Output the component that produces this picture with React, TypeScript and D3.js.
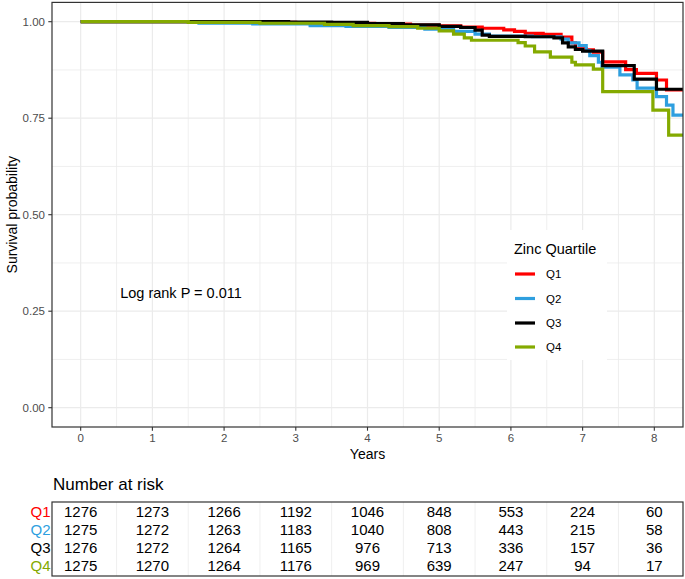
import React from "react";
import * as d3 from "d3";

// ---- data ----
const groups = ["Q1", "Q2", "Q3", "Q4"];
const groupColors = ["#FF0000", "#2E9FDF", "#000000", "#84AA00"];

// [time (years), survival probability] step points
const survQ1: [number, number][] = [
  [0, 1], [1.8, 0.999], [2.5, 0.998], [3.0, 0.997], [3.6, 0.996], [4.1, 0.994],
  [4.6, 0.991], [5.0, 0.989], [5.3, 0.986], [5.6, 0.983], [5.9, 0.979], [6.05, 0.975],
  [6.2, 0.97], [6.45, 0.967], [6.7, 0.96], [6.85, 0.945], [6.9, 0.93], [7.05, 0.927],
  [7.15, 0.921], [7.28, 0.896], [7.6, 0.876], [7.75, 0.866], [8.03, 0.849], [8.17, 0.823], [8.5, 0.823],
];
const survQ2: [number, number][] = [
  [0, 1], [1.65, 0.996], [2.4, 0.994], [3.2, 0.99], [3.7, 0.988], [4.3, 0.985],
  [4.8, 0.981], [5.2, 0.975], [5.5, 0.968], [5.7, 0.963], [6.3, 0.961], [6.7, 0.955],
  [6.8, 0.945], [6.95, 0.938], [7.05, 0.925], [7.1, 0.912], [7.22, 0.895], [7.27, 0.882],
  [7.52, 0.862], [7.7, 0.849], [7.76, 0.828], [8.03, 0.806], [8.17, 0.784], [8.26, 0.758], [8.5, 0.758],
];
const survQ3: [number, number][] = [
  [0, 1], [2.9, 0.999], [3.5, 0.998], [4.0, 0.995], [4.5, 0.992], [5.0, 0.988],
  [5.3, 0.985], [5.5, 0.978], [5.6, 0.965], [5.7, 0.962], [6.2, 0.961], [6.6, 0.958],
  [6.72, 0.945], [6.8, 0.935], [6.9, 0.928], [7.0, 0.924], [7.28, 0.886], [7.72, 0.851],
  [8.03, 0.825], [8.5, 0.825],
];
const survQ4: [number, number][] = [
  [0, 1], [1.5, 0.998], [2.5, 0.996], [3.4, 0.993], [3.8, 0.99], [4.3, 0.987],
  [4.7, 0.983], [5.0, 0.976], [5.2, 0.968], [5.35, 0.958], [5.45, 0.952], [6.1, 0.946],
  [6.2, 0.937], [6.33, 0.922], [6.55, 0.908], [6.85, 0.895], [6.9, 0.888], [7.15, 0.877],
  [7.28, 0.819], [7.98, 0.771], [8.2, 0.706], [8.5, 0.706],
];
const survData = [survQ1, survQ2, survQ3, survQ4];

const yearTicks = [0, 1, 2, 3, 4, 5, 6, 7, 8];
const survTicks = [0, 0.25, 0.5, 0.75, 1];
const riskQ1 = [1276, 1273, 1266, 1192, 1046, 848, 553, 224, 60];
const riskQ2 = [1275, 1272, 1263, 1183, 1040, 808, 443, 215, 58];
const riskQ3 = [1276, 1272, 1264, 1165, 976, 713, 336, 157, 36];
const riskQ4 = [1275, 1270, 1264, 1176, 969, 639, 247, 94, 17];
const riskTable = [riskQ1, riskQ2, riskQ3, riskQ4];

const FONT = "'Liberation Sans', Arial, Helvetica, sans-serif";

export default function App() {
  const W = 685, H = 579;
  const left = 52, right = 683, top = 2.4, bottom = 427;
  const x = d3.scaleLinear().domain([-0.4, 8.4]).range([left, right]);
  const y = d3.scaleLinear().domain([-0.05, 1.05]).range([bottom, top]);
  const line = d3
    .line<[number, number]>()
    .x((d) => x(d[0]))
    .y((d) => y(d[1]))
    .curve(d3.curveStepAfter);

  const minorX = d3.range(-0.5, 8.6, 1).filter((v) => v > -0.4 && v < 8.4);
  const minorY = d3.range(-0.125, 1.1, 0.25).filter((v) => v > -0.05 && v < 1.05);

  const tblTop = 502, tblBottom = 576;
  const rowY = [512, 530, 548, 566];

  const legX = 507, legY = 230;
  const keyY = [274, 298.5, 323, 347];

  return (
    <svg
      width={W}
      height={H}
      style={{ position: "absolute", left: 0, top: 0, background: "#fff" }}
      fontFamily={FONT}
    >
      <defs>
        <clipPath id="panel">
          <rect x={left} y={top} width={right - left} height={bottom - top} />
        </clipPath>
      </defs>
      <rect x={0} y={0} width={W} height={H} fill="#fff" />
      {/* grid */}
      {minorX.map((v) => (
        <line key={"mx" + v} x1={x(v)} x2={x(v)} y1={top} y2={bottom} stroke="#EBEBEB" strokeWidth={0.8} />
      ))}
      {minorY.map((v) => (
        <line key={"my" + v} x1={left} x2={right} y1={y(v)} y2={y(v)} stroke="#EBEBEB" strokeWidth={0.8} />
      ))}
      {yearTicks.map((v) => (
        <line key={"gx" + v} x1={x(v)} x2={x(v)} y1={top} y2={bottom} stroke="#EBEBEB" strokeWidth={1.2} />
      ))}
      {survTicks.map((v) => (
        <line key={"gy" + v} x1={left} x2={right} y1={y(v)} y2={y(v)} stroke="#EBEBEB" strokeWidth={1.2} />
      ))}

      {/* curves */}
      <g clipPath="url(#panel)">
        {survData.map((d, i) => (
          <path key={groups[i]} d={line(d) || ""} fill="none" stroke={groupColors[i]} strokeWidth={3.2} />
        ))}
      </g>

      {/* panel border */}
      <rect x={left} y={top} width={right - left} height={bottom - top} fill="none" stroke="#333333" strokeWidth={1.2} />

      {/* y axis */}
      {survTicks.map((v) => (
        <g key={"yt" + v}>
          <line x1={left - 3.7} x2={left} y1={y(v)} y2={y(v)} stroke="#333333" strokeWidth={1.1} />
          <text x={left - 7} y={y(v)} dy="0.36em" textAnchor="end" fontSize={11.5} fill="#4D4D4D">
            {v.toFixed(2)}
          </text>
        </g>
      ))}
      {/* x axis */}
      {yearTicks.map((v) => (
        <g key={"xt" + v}>
          <line x1={x(v)} x2={x(v)} y1={bottom} y2={bottom + 3.7} stroke="#333333" strokeWidth={1.1} />
          <text x={x(v)} y={442} textAnchor="middle" fontSize={11.5} fill="#4D4D4D">
            {v}
          </text>
        </g>
      ))}
      <text x={(left + right) / 2} y={459} textAnchor="middle" fontSize={14} fill="#000">
        Years
      </text>
      <text
        transform={`translate(17, ${(top + bottom) / 2}) rotate(-90)`}
        textAnchor="middle"
        fontSize={14}
        fill="#000"
      >
        Survival probability
      </text>

      {/* annotation */}
      <text x={181} y={298} textAnchor="middle" fontSize={14.5} fill="#000">
        Log rank P = 0.011
      </text>

      {/* legend */}
      <rect x={legX} y={legY} width={100} height={130} fill="#fff" />
      <text x={514} y={254} fontSize={14.5} fill="#000">
        Zinc Quartile
      </text>
      {groups.map((g, i) => (
        <g key={"lg" + g}>
          <line x1={515} x2={535} y1={keyY[i]} y2={keyY[i]} stroke={groupColors[i]} strokeWidth={3.2} />
          <text x={546} y={keyY[i]} dy="0.36em" fontSize={11.5} fill="#000">
            {g}
          </text>
        </g>
      ))}

      {/* risk table */}
      <text x={53} y={490} fontSize={17} fill="#000">
        Number at risk
      </text>
      {minorX.map((v) => (
        <line key={"tmx" + v} x1={x(v)} x2={x(v)} y1={tblTop} y2={tblBottom} stroke="#EBEBEB" strokeWidth={0.8} />
      ))}
      <rect x={left} y={tblTop} width={right - left} height={tblBottom - tblTop} fill="none" stroke="#333333" strokeWidth={1.2} />
      {riskTable.map((row, i) => (
        <g key={"row" + i}>
          <text x={50.5} y={rowY[i]} dy="0.36em" textAnchor="end" fontSize={15} fill={groupColors[i]}>
            {groups[i]}
          </text>
          {row.map((n, j) => (
            <text key={j} x={x(yearTicks[j])} y={rowY[i]} dy="0.36em" textAnchor="middle" fontSize={15} fill="#000">
              {n}
            </text>
          ))}
        </g>
      ))}
    </svg>
  );
}
